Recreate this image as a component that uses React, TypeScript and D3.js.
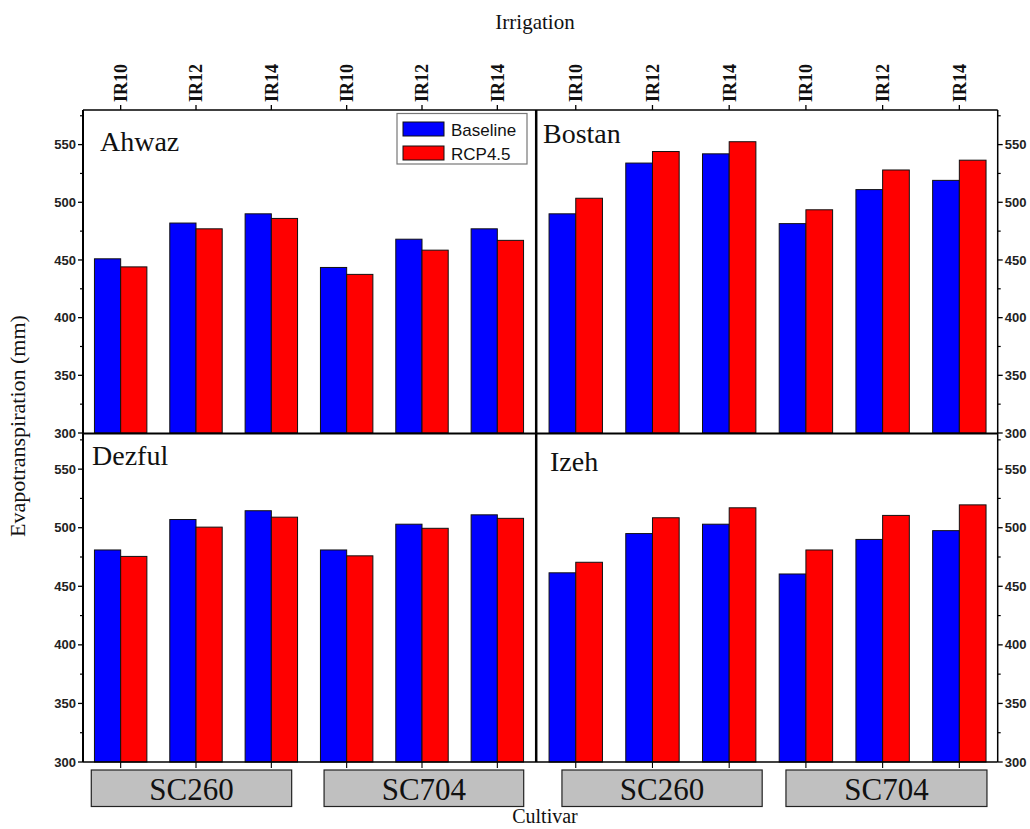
import React from "react";
import * as d3 from "d3";

const irrigation = ["IR10", "IR12", "IR14", "IR10", "IR12", "IR14"];
const cultivars = ["SC260", "SC704"];
const seriesNames = ["Baseline", "RCP4.5"];
const seriesColors = ["#0000ff", "#ff0000"];
const stations = ["Ahwaz", "Bostan", "Dezful", "Izeh"];

const ahwazBaseline = [451, 482, 490, 443.5, 468, 477];
const ahwazRcp = [444, 477, 486, 437.5, 458.5, 467];
const bostanBaseline = [490, 534, 542, 481.5, 511, 519];
const bostanRcp = [503.5, 544, 552.5, 493.5, 528, 536.5];
const dezfulBaseline = [481, 507, 514.5, 481, 503, 511];
const dezfulRcp = [475.5, 500.5, 509, 476, 499.5, 508];
const izehBaseline = [461.5, 495, 503, 460.5, 490, 497.5];
const izehRcp = [470.5, 508.5, 517, 481, 510.5, 519.5];

const yTicks = [300, 350, 400, 450, 500, 550];
const yMinor = [325, 375, 425, 475, 525, 575];
const yDomain = [300, 580];

const serif = "'Liberation Serif', 'Times New Roman', serif";
const sans = "'Liberation Sans', Arial, sans-serif";

type Panel = {
  name: string;
  base: number[];
  rcp: number[];
  x0: number;
  x1: number;
  y0: number;
  y1: number;
  col: number;
  row: number;
  titleX: number;
  titleY: number;
  boxes: [number, number][];
};

const panels: Panel[] = [
  { name: stations[0], base: ahwazBaseline, rcp: ahwazRcp, x0: 83, x1: 535, y0: 110, y1: 433, col: 0, row: 0, titleX: 100, titleY: 151, boxes: [[0.61, 3.27], [3.7, 6.35]] },
  { name: stations[1], base: bostanBaseline, rcp: bostanRcp, x0: 537.4, x1: 997.7, y0: 110, y1: 433, col: 1, row: 0, titleX: 543, titleY: 143, boxes: [[0.82, 3.43], [3.74, 6.36]] },
  { name: stations[2], base: dezfulBaseline, rcp: dezfulRcp, x0: 83, x1: 535, y0: 434, y1: 762, col: 0, row: 1, titleX: 92, titleY: 465, boxes: [[0.61, 3.27], [3.7, 6.35]] },
  { name: stations[3], base: izehBaseline, rcp: izehRcp, x0: 537.4, x1: 997.7, y0: 434, y1: 762, col: 1, row: 1, titleX: 550, titleY: 471, boxes: [[0.82, 3.43], [3.74, 6.36]] },
];

function PanelView({ p }: { p: Panel }) {
  const x = d3.scaleLinear().domain([0.5, irrigation.length + 0.5]).range([p.x0, p.x1]);
  const y = d3.scaleLinear().domain(yDomain).range([p.y1, p.y0]);
  const step = x(2) - x(1);
  const bw = step * 0.348;
  const leftSide = p.col === 0;
  const axisX = leftSide ? p.x0 : p.x1;
  const dir = leftSide ? -1 : 1;
  return (
    <g>
      {irrigation.map((_, i) => {
        const cx = x(i + 1);
        return (
          <g key={i}>
            <rect x={cx - bw} y={y(p.base[i])} width={bw} height={y(300) - y(p.base[i])} fill={seriesColors[0]} stroke="#111" strokeWidth={1} />
            <rect x={cx} y={y(p.rcp[i])} width={bw} height={y(300) - y(p.rcp[i])} fill={seriesColors[1]} stroke="#111" strokeWidth={1} />
          </g>
        );
      })}
      {yTicks.map((t) => (
        <g key={t}>
          <line x1={axisX} x2={axisX + dir * 5} y1={y(t)} y2={y(t)} stroke="#000" strokeWidth={1.3} />
          <text
            x={axisX + dir * 7}
            y={y(t)}
            dy="0.35em"
            textAnchor={leftSide ? "end" : "start"}
            fontFamily={sans}
            fontSize={13}
            fontWeight="bold"
            fill="#222"
          >
            {t}
          </text>
        </g>
      ))}
      {yMinor.filter((t) => y(t) >= p.y0).map((t) => (
        <line key={t} x1={axisX} x2={axisX + dir * 3} y1={y(t)} y2={y(t)} stroke="#000" strokeWidth={1.2} />
      ))}
      {p.row === 0 &&
        irrigation.map((lab, i) => (
          <g key={"t" + i}>
            <line x1={x(i + 1)} x2={x(i + 1)} y1={p.y0} y2={p.y0 - 5} stroke="#000" strokeWidth={1.3} />
            <text
              transform={`translate(${x(i + 1)},${p.y0 - 8}) rotate(-90)`}
              dy="0.35em"
              textAnchor="start"
              fontFamily={serif}
              fontSize={18}
              fontWeight="bold"
              fill="#111"
            >
              {lab}
            </text>
          </g>
        ))}
      {p.row === 1 &&
        irrigation.map((_, i) => (
          <line key={"b" + i} x1={x(i + 1)} x2={x(i + 1)} y1={p.y1} y2={p.y1 + 6} stroke="#000" strokeWidth={1.1} />
        ))}
      {p.row === 1 &&
        p.boxes.map((b, k) => (
          <g key={"box" + k}>
            <rect x={x(b[0])} y={770} width={x(b[1]) - x(b[0])} height={36.5} fill="#c0c0c0" stroke="#222" strokeWidth={1.2} />
            <text x={(x(b[0]) + x(b[1])) / 2} y={800} textAnchor="middle" fontFamily={serif} fontSize={31} fill="#111">
              {cultivars[k]}
            </text>
          </g>
        ))}
      <text x={p.titleX} y={p.titleY} fontFamily={serif} fontSize={28} fill="#111">
        {p.name}
      </text>
    </g>
  );
}

export default function App() {
  const W = 1030;
  const H = 829;
  return (
    <svg width={W} height={H} style={{ position: "absolute", left: 0, top: 0, display: "block", background: "#fff" }}>
      <rect x={0} y={0} width={W} height={H} fill="#fff" />
      {panels.map((p) => (
        <PanelView key={p.name} p={p} />
      ))}
      <line x1={83} x2={83} y1={110} y2={762} stroke="#000" strokeWidth={2} />
      <line x1={997.7} x2={997.7} y1={110} y2={762} stroke="#000" strokeWidth={1.5} />
      <line x1={83} x2={997.7} y1={110} y2={110} stroke="#000" strokeWidth={1.5} />
      <line x1={83} x2={997.7} y1={762} y2={762} stroke="#000" strokeWidth={1.5} />
      <line x1={83} x2={997.7} y1={433.5} y2={433.5} stroke="#000" strokeWidth={2} />
      <line x1={536.2} x2={536.2} y1={110} y2={762} stroke="#000" strokeWidth={2.5} />
      <g>
        <rect x={397} y={113.5} width={130} height={50.5} fill="#fff" stroke="#777" strokeWidth={1.2} />
        {seriesNames.map((s, i) => (
          <g key={s}>
            <rect x={403} y={122 + i * 24} width={41} height={14} fill={seriesColors[i]} stroke="#111" strokeWidth={1} />
            <text x={451} y={136 + i * 23.5} fontFamily={sans} fontSize={17} fill="#111">
              {s}
            </text>
          </g>
        ))}
      </g>
      <text x={535} y={29} textAnchor="middle" fontFamily={serif} fontSize={21} fill="#111">
        Irrigation
      </text>
      <text x={545} y={823} textAnchor="middle" fontFamily={serif} fontSize={20} fill="#111">
        Cultivar
      </text>
      <text transform="translate(25,426) rotate(-90)" textAnchor="middle" fontFamily={serif} fontSize={22} fill="#111">
        Evapotranspiration (mm)
      </text>
    </svg>
  );
}
